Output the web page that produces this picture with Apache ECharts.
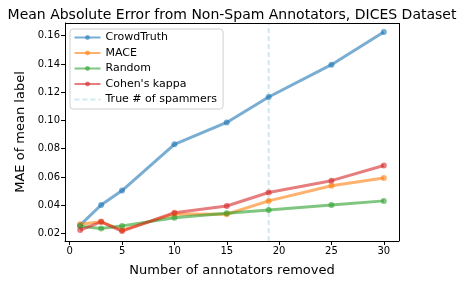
<!DOCTYPE html>
<html><head><meta charset="utf-8">
<script src="https://cdn.jsdelivr.net/npm/echarts@6/dist/echarts.min.js"></script>
<style>html,body{margin:0;padding:0;background:#fff}#c{width:464px;height:282px}</style>
</head><body><div id="c"></div>
<script>
const xValues = [1, 3, 5, 10, 15, 19, 25, 30];
const crowdTruth = [0.0259, 0.0402, 0.0504, 0.0831, 0.0986, 0.1166, 0.1395, 0.1627];
const mace = [0.0266, 0.0283, 0.0224, 0.0338, 0.0336, 0.0431, 0.0538, 0.0593];
const randomSel = [0.0252, 0.0236, 0.0254, 0.0311, 0.0343, 0.0366, 0.0402, 0.0431];
const cohensKappa = [0.0224, 0.0283, 0.0217, 0.0347, 0.0395, 0.0490, 0.0574, 0.0681];
const trueSpammers = 19;
const xTicks = [0, 5, 10, 15, 20, 25, 30];
const yTicks = [0.02, 0.04, 0.06, 0.08, 0.10, 0.12, 0.14, 0.16];
const seriesNames = ['CrowdTruth', 'MACE', 'Random', "Cohen's kappa", 'True # of spammers'];

const xMin = -0.45, xMax = 31.45, yMin = 0.0147, yMax = 0.1690;
const colors = ['rgba(31,119,180,0.6)', 'rgba(255,127,14,0.6)', 'rgba(44,160,44,0.6)', 'rgba(214,39,40,0.6)'];
const font = 'DejaVu Sans';

function lineSeries(name, vals, color) {
  return {
    name: name, type: 'line', data: xValues.map((x, i) => [x, vals[i]]),
    symbol: 'circle', symbolSize: 6, showSymbol: true,
    lineStyle: { color: color, width: 3 },
    itemStyle: { color: color },
    emphasis: { disabled: true }, animation: false
  };
}

const chart = echarts.init(document.getElementById('c'), null, { renderer: 'canvas' });
chart.setOption({
  animation: false,
  title: { text: 'Mean Absolute Error from Non-Spam Annotators, DICES Dataset', left: 'center', top: 3,
    textStyle: { fontFamily: font, fontSize: 14, fontWeight: 'normal', color: '#000' } },
  grid: { left: 65, right: 65, top: 23, bottom: 41, containLabel: false },
  legend: {
    left: 70, top: 29, orient: 'vertical', itemGap: 4.5, itemWidth: 26, itemHeight: 6,
    padding: [3, 6, 4, 3.5], borderColor: '#d0d0d0', borderWidth: 1, borderRadius: 3,
    backgroundColor: 'rgba(255,255,255,0.8)',
    textStyle: { fontFamily: font, fontSize: 11, color: '#000' },
    data: seriesNames
  },
  xAxis: {
    type: 'value', min: xMin, max: xMax,
    name: 'Number of annotators removed', nameLocation: 'middle', nameGap: 23,
    nameTextStyle: { fontFamily: font, fontSize: 13, color: '#000' },
    axisLine: { show: true, onZero: false, lineStyle: { color: '#000', width: 1 } },
    axisTick: { show: true, length: 4, inside: false, customValues: xTicks, lineStyle: { color: '#000' } },
    axisLabel: { customValues: xTicks, fontFamily: font, fontSize: 10, color: '#000', margin: 5 },
    splitLine: { show: false }
  },
  yAxis: {
    type: 'value', min: yMin, max: yMax,
    name: 'MAE of mean label', nameLocation: 'middle', nameGap: 38,
    nameTextStyle: { fontFamily: font, fontSize: 13, color: '#000' },
    axisLine: { show: true, onZero: false, lineStyle: { color: '#000', width: 1 } },
    axisTick: { show: true, length: 4, customValues: yTicks, lineStyle: { color: '#000' } },
    axisLabel: { customValues: yTicks, fontFamily: font, fontSize: 10, color: '#000', margin: 5,
      formatter: v => v.toFixed(2) },
    splitLine: { show: false }
  },
  series: [
    lineSeries(seriesNames[0], crowdTruth, colors[0]),
    lineSeries(seriesNames[1], mace, colors[1]),
    lineSeries(seriesNames[2], randomSel, colors[2]),
    lineSeries(seriesNames[3], cohensKappa, colors[3]),
    {
      name: seriesNames[4], type: 'line', data: [[trueSpammers, yMin], [trueSpammers, yMax]],
      showSymbol: false, symbol: 'circle',
      lineStyle: { color: 'rgba(173,216,230,0.6)', width: 2, type: [5, 3] },
      itemStyle: { color: 'rgba(0,0,0,0)' }, z: 1, emphasis: { disabled: true }
    },
    {
      type: 'line', data: [], silent: true,
      markLine: { silent: true, symbol: 'none', label: { show: false },
        lineStyle: { color: '#000', width: 1, type: 'solid' },
        data: [[{ coord: [xMin, yMax] }, { coord: [xMax, yMax] }], [{ coord: [xMax, yMin] }, { coord: [xMax, yMax] }]] }
    }
  ]
});
</script></body></html>
